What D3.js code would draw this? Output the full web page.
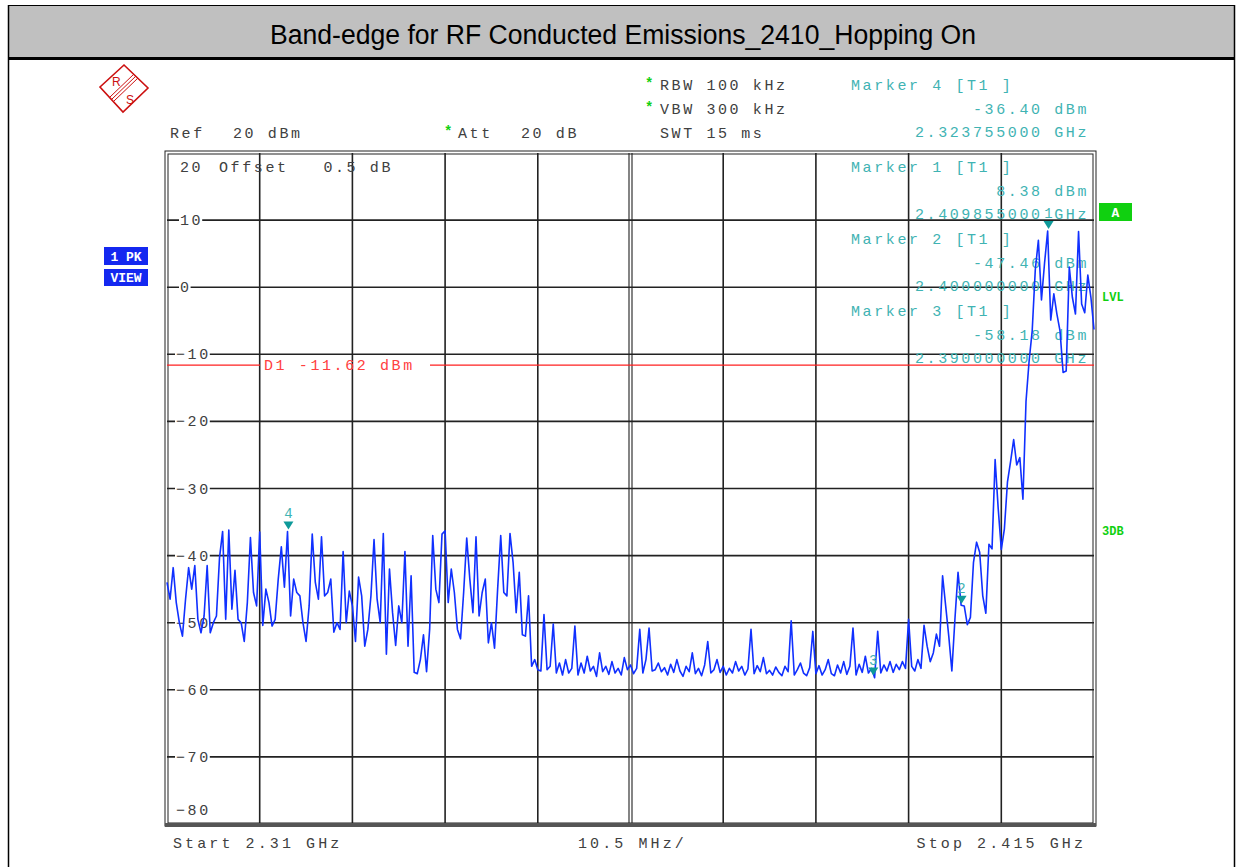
<!DOCTYPE html>
<html>
<head>
<meta charset="utf-8">
<script src="https://cdn.jsdelivr.net/npm/d3@7/dist/d3.min.js"></script>
<style>
  html, body { margin: 0; padding: 0; background: #fff; }
  svg { display: block; }
  .mono { font-family: "Liberation Mono", "DejaVu Sans Mono", monospace; font-size: 15px; letter-spacing: 2.6px; white-space: pre; }
  .foot { letter-spacing: 3.1px; }
</style>
</head>
<body>
<div id="chart"></div>
<script>
// Sweep settings (frequencies in MHz)
const startMHz = 2310;
const stopMHz = 2415;
const stepMHz = 0.35;           // spacing of the trace points
const refLevel = 20;            // dBm, top of the screen
const bottomLevel = -80;        // dBm, bottom of the screen
const yTicks = [10, 0, -10, -20, -30, -40, -50, -60, -70, -80];
const displayLine = -11.62;     // D1 limit, dBm

// Peak-hold trace, one level (dBm) per sweep point
const traceLevels = [
  -44, -46.5, -41.8, -47, -50, -52, -46.5, -41.8, -45, -41.5,
  -49.5, -51.5, -49, -41.5, -51.5, -50, -49, -40.3, -36.4, -49.5,
  -36.2, -48, -42.2, -49.5, -50, -52.8, -47, -37.3, -45.5, -47.5,
  -36.5, -50.4, -45, -47, -50.5, -49.5, -43.5, -38.7, -44.7, -36.4,
  -49, -43.5, -45.5, -46, -50, -52.8, -47.5, -36.8, -44, -46.5,
  -37.2, -46, -45.5, -43.5, -51.4, -50, -51, -39.4, -50, -45.3,
  -47.5, -52.8, -43.2, -46, -53.5, -51, -46, -37.6, -46.5, -50,
  -36.7, -54.7, -42, -48.5, -53.4, -47.5, -50, -39.4, -53.5, -43,
  -57.4, -57.6, -55.5, -51.8, -57.3, -51, -37, -45, -47, -36.8,
  -36.3, -47, -42, -45.5, -51, -52.4, -45.5, -37.4, -43.5, -48.5,
  -37.2, -49, -45.5, -43.5, -53, -50, -53.8, -45, -37, -45.5,
  -46, -36.7, -41, -48.5, -42.5, -51.8, -52, -46, -56.5, -55.5,
  -57, -57.2, -48.8, -57, -56.5, -50.2, -57.5, -56, -57.8, -55.5,
  -57.5, -56.8, -50.5, -57.8, -56, -57.5, -55, -57.2, -56.5, -58,
  -54.5, -57.3, -56.5, -57.7, -55.8, -57.5, -56.8, -57.8, -55.2, -57,
  -56.3, -57.6, -56.8, -51, -57.5, -55.5, -50.8, -57.2, -57, -56,
  -57.3, -56.7, -57.8, -56.2, -57.4, -55.5, -57.2, -58, -56.5, -57.3,
  -54.5, -57.6, -56.8, -57.9, -56.3, -52.8, -57.5, -57, -55.5, -57.4,
  -56.5, -57.8, -56.8, -57.5, -55.8, -57.2, -56.5, -57.8, -56.9, -51,
  -57.6, -56.4, -57.3, -55.2, -57.6, -57.1, -57.8, -56.6, -57.4, -57.9,
  -56.5, -57.3, -49.7, -57.8, -57, -56, -57.5, -57.9, -56.7, -51.3,
  -57.6, -56.4, -57.8, -57, -55.5, -57.6, -57.9, -56.3, -57.5, -55.8,
  -57.7, -56.5, -50.8, -57.8, -56.2, -57.4, -55, -57.5, -56.8, -58.2,
  -51.3, -57.5, -56.3, -57.2, -55.8, -57.4, -56.2, -57, -55.8, -56.8,
  -49.5, -56.5, -57.2, -55.5, -56.8, -50.4, -53.5, -55.8, -54.5, -51.7,
  -53.5, -43, -47.5, -52, -57.2, -49.4, -42.5, -47.4, -47.5, -50.3,
  -49.2, -41, -38, -39.5, -46, -48.6, -38.3, -39, -25.7, -33,
  -39.1, -36, -29, -26, -22.7, -26.5, -25.4, -31.6, -17, -11,
  -6.5, 2.6, 7, -1.9, 3.6, 8.38, -4.9, -1, -4, -6.5,
  -12.7, -12.5, 3, -1.5, -4, 8.3, -2.5, -3.8, 1.8, -1.5,
  -6.3
];

// Markers: number, frequency (MHz), level (dBm)
const markerIds = [1, 2, 3, 4];
const markerFreqs = [2409.855, 2400.0, 2390.0, 2323.755];
const markerLevels = [8.38, -47.46, -58.18, -36.40];
const markerFreqText = ["2.409855000 GHz", "2.400000000 GHz", "2.390000000 GHz", "2.323755000 GHz"];
const markerLevelText = ["8.38 dBm", "-47.46 dBm", "-58.18 dBm", "-36.40 dBm"];

const W = 1238, H = 867;
const plot = { left: 167, right: 1094, top: 153, bottom: 824 };

const svg = d3.select("#chart").append("svg").attr("width", W).attr("height", H);

const x = d3.scaleLinear().domain([startMHz, stopMHz]).range([plot.left, plot.right]);
const y = d3.scaleLinear().domain([bottomLevel, refLevel]).range([plot.bottom, plot.top]);

const grey = "#404040";
const teal = "#3fb3b3";
const markTeal = "#0e9a9a";
const green = "#10d010";

// ---- title bar ----
svg.append("rect").attr("x", 8).attr("y", 5).attr("width", W - 12).attr("height", 53)
  .attr("fill", "#c0c0c0");
svg.append("line").attr("x1", 8).attr("x2", W - 4).attr("y1", 5.5).attr("y2", 5.5)
  .attr("stroke", "#000").attr("stroke-width", 1);
svg.append("line").attr("x1", 8).attr("x2", W - 4).attr("y1", 58.5).attr("y2", 58.5)
  .attr("stroke", "#000").attr("stroke-width", 3);
svg.append("line").attr("x1", 8.5).attr("x2", 8.5).attr("y1", 5).attr("y2", H)
  .attr("stroke", "#000").attr("stroke-width", 1.5);
svg.append("line").attr("x1", W - 3.5).attr("x2", W - 3.5).attr("y1", 5).attr("y2", H)
  .attr("stroke", "#000").attr("stroke-width", 1.5);
svg.append("text").attr("x", 623).attr("y", 44).attr("text-anchor", "middle")
  .attr("font-family", "Liberation Sans, Arial, sans-serif").attr("font-size", 27)
  .attr("textLength", 706).attr("lengthAdjust", "spacingAndGlyphs")
  .attr("fill", "#000").text("Band-edge for RF Conducted Emissions_2410_Hopping On");

// ---- R&S logo ----
const logo = svg.append("g").attr("stroke", "#cc1010").attr("fill", "none");
logo.append("path").attr("d", "M124,65 L148,88 L123,112 L100,87 Z").attr("stroke-width", 1.6);
[-2, 0, 2].forEach(o => {
  logo.append("line").attr("x1", 136 + o).attr("y1", 76 + o).attr("x2", 112 + o).attr("y2", 99 + o)
    .attr("stroke-width", 1);
});
svg.append("text").attr("x", 112).attr("y", 86).attr("font-family", "Liberation Sans, sans-serif")
  .attr("font-size", 12).attr("fill", "#cc1010").text("R");
svg.append("text").attr("x", 126).attr("y", 104).attr("font-family", "Liberation Sans, sans-serif")
  .attr("font-size", 12).attr("fill", "#cc1010").text("S");

// ---- header texts ----
function mono(tx, ty, str, color, anchor) {
  return svg.append("text").attr("class", "mono").attr("x", tx).attr("y", ty)
    .attr("fill", color || grey).attr("text-anchor", anchor || "start").text(str);
}
function star(tx, ty) {
  svg.append("text").attr("x", tx).attr("y", ty).attr("font-family", "Liberation Mono, monospace")
    .attr("font-size", 14).attr("font-weight", "bold").attr("fill", green).text("*");
}
star(645, 88); mono(660, 90, "RBW 100 kHz");
star(645, 112); mono(660, 114, "VBW 300 kHz");
mono(170, 138, "Ref"); mono(233, 138, "20 dBm");
star(444, 136); mono(458, 138, "Att"); mono(521, 138, "20 dB");
mono(660, 138, "SWT 15 ms");

// ---- plot frame and grid ----
const gridG = svg.append("g");
const vLines = d3.range(0, 11).map(i => startMHz + i * (stopMHz - startMHz) / 10);
gridG.selectAll("line.v").data(vLines.slice(1, 10).filter((d, i) => i !== 4)).join("line")
  .attr("x1", d => x(d)).attr("x2", d => x(d)).attr("y1", plot.top).attr("y2", plot.bottom)
  .attr("stroke", "#222").attr("stroke-width", 1.6);
// centre frequency line drawn as a double rule
[-1.5, 1.5].forEach(o => {
  gridG.append("line").attr("x1", x(vLines[5]) + o).attr("x2", x(vLines[5]) + o)
    .attr("y1", plot.top).attr("y2", plot.bottom).attr("stroke", "#333").attr("stroke-width", 1.2);
});
gridG.selectAll("line.h").data(yTicks.slice(0, 9)).join("line")
  .attr("x1", plot.left).attr("x2", plot.right).attr("y1", d => y(d)).attr("y2", d => y(d))
  .attr("stroke", "#222").attr("stroke-width", 1.6);

// frame (double outline)
svg.append("rect").attr("x", plot.left - 2).attr("y", plot.top - 2)
  .attr("width", plot.right - plot.left + 4).attr("height", plot.bottom - plot.top + 4)
  .attr("fill", "none").attr("stroke", "#222").attr("stroke-width", 1);
svg.append("rect").attr("x", plot.left + 1).attr("y", plot.top + 1)
  .attr("width", plot.right - plot.left - 2).attr("height", plot.bottom - plot.top - 2)
  .attr("fill", "none").attr("stroke", "#222").attr("stroke-width", 1);
svg.append("line").attr("x1", plot.left - 2).attr("x2", plot.right + 2)
  .attr("y1", plot.bottom + 1).attr("y2", plot.bottom + 1).attr("stroke", "#555").attr("stroke-width", 4);

// y-axis level labels
const yLab = svg.append("g");
yTicks.forEach(v => {
  const label = v < 0 ? "\u2212" + Math.abs(v) : String(v);
  const ty = v === bottomLevel ? y(v) - 14 : y(v);
  const tx = v < 0 ? 176 : 180;
  const w = label.length * 11.6;
  if (v !== bottomLevel) {
    yLab.append("rect").attr("x", tx - 1).attr("y", ty - 7).attr("width", w).attr("height", 14).attr("fill", "#fff");
  }
  yLab.append("text").attr("class", "mono").attr("x", tx).attr("y", ty + 5).attr("fill", grey).text(label);
});
mono(180, 172, "20");
mono(219, 172, "Offset   0.5 dB");

// ---- marker readouts ----
const readRows = [
  { id: 4, y0: 90 }, { id: 1, y0: 172 }, { id: 2, y0: 244 }, { id: 3, y0: 316 }
];
readRows.forEach(r => {
  const k = markerIds.indexOf(r.id);
  mono(851, r.y0, "Marker " + r.id + " [T1 ]", teal);
  mono(1089, r.y0 + 24, markerLevelText[k], teal, "end");
  mono(1089, r.y0 + 47, markerFreqText[k], teal, "end");
});

// ---- display line D1 ----
svg.append("line").attr("x1", plot.left).attr("x2", 260).attr("y1", y(displayLine)).attr("y2", y(displayLine))
  .attr("stroke", "#ff2020").attr("stroke-width", 1.3);
svg.append("line").attr("x1", 430).attr("x2", plot.right).attr("y1", y(displayLine)).attr("y2", y(displayLine))
  .attr("stroke", "#ff2020").attr("stroke-width", 1.3);
mono(264, y(displayLine) + 5, "D1 -11.62 dBm", "#ff4040");

// ---- trace ----
const traceData = traceLevels.map((v, i) => ({ f: startMHz + i * stepMHz, v }));
const line = d3.line().x(d => x(d.f)).y(d => y(d.v));
svg.append("path").datum(traceData).attr("d", line)
  .attr("fill", "none").attr("stroke", "#1030ff").attr("stroke-width", 1.6).attr("stroke-linejoin", "round");

// ---- marker symbols ----
markerIds.forEach((id, k) => {
  const mx = x(markerFreqs[k]), my = y(markerLevels[k]);
  svg.append("path").attr("d", `M${mx - 5},${my - 10} L${mx + 5},${my - 10} L${mx},${my - 2} Z`)
    .attr("fill", markTeal);
  svg.append("text").attr("x", mx).attr("y", my - 13).attr("text-anchor", "middle")
    .attr("font-family", "Liberation Mono, monospace").attr("font-size", 14).attr("fill", teal).text(id);
});

// ---- side labels ----
svg.append("rect").attr("x", 1099).attr("y", 203).attr("width", 33).attr("height", 18).attr("fill", "#10d010");
svg.append("text").attr("x", 1115.5).attr("y", 217).attr("text-anchor", "middle")
  .attr("font-family", "Liberation Mono, monospace").attr("font-weight", "bold").attr("font-size", 13)
  .attr("fill", "#fff").text("A");
svg.append("text").attr("x", 1102).attr("y", 301).attr("font-family", "Liberation Mono, monospace")
  .attr("font-weight", "bold").attr("font-size", 12).attr("fill", green).text("LVL");
svg.append("text").attr("x", 1102).attr("y", 535).attr("font-family", "Liberation Mono, monospace")
  .attr("font-weight", "bold").attr("font-size", 12).attr("fill", green).text("3DB");

svg.append("rect").attr("x", 104).attr("y", 247).attr("width", 44).attr("height", 18).attr("fill", "#1428f0");
svg.append("rect").attr("x", 104).attr("y", 269).attr("width", 44).attr("height", 17).attr("fill", "#1428f0");
svg.append("text").attr("x", 126).attr("y", 261).attr("text-anchor", "middle")
  .attr("font-family", "Liberation Mono, monospace").attr("font-weight", "bold").attr("font-size", 13)
  .attr("fill", "#fff").text("1 PK");
svg.append("text").attr("x", 126).attr("y", 282).attr("text-anchor", "middle")
  .attr("font-family", "Liberation Mono, monospace").attr("font-weight", "bold").attr("font-size", 13)
  .attr("fill", "#fff").text("VIEW");

// ---- bottom annotations ----
mono(173, 848, "Start 2.31 GHz").classed("foot", true);
mono(578, 848, "10.5 MHz/").classed("foot", true);
mono(1086, 848, "Stop 2.415 GHz", grey, "end").classed("foot", true);
</script>
</body>
</html>
